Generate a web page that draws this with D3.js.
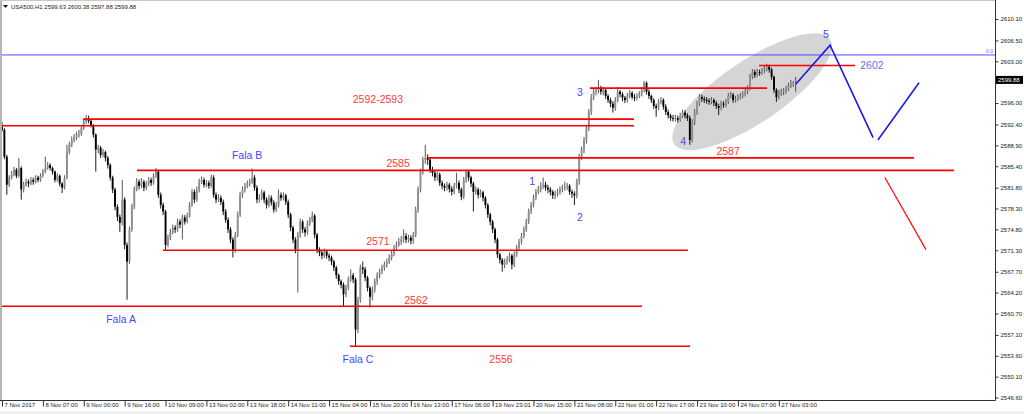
<!DOCTYPE html>
<html><head><meta charset="utf-8">
<script src="https://cdn.jsdelivr.net/npm/d3@7"></script>
<style>body{margin:0;background:#fff}svg{display:block}text{font-family:"Liberation Sans",Arial,sans-serif}</style>
</head><body>
<svg id="c" width="1024" height="414"></svg>
<script>
// ---- data (hourly bars, USA500 H1) ----
const firstOpen = 2592.0;
const closes = [
2591.5,2587.0,2582.3,2583.5,2584.0,2584.8,2583.8,2585.1,2581.5,2582.3,
2582.8,2582.5,2583.1,2582.8,2583.5,2583.1,2583.8,2584.5,2585.1,2585.6,
2585.1,2584.5,2583.1,2583.8,2582.5,2581.8,2583.5,2587.8,2589.0,2589.8,
2590.2,2590.7,2590.8,2591.8,2592.8,2593.4,2593.0,2592.3,2590.7,2588.2,
2588.5,2587.3,2587.8,2586.8,2585.6,2583.5,2581.5,2578.6,2576.9,2575.9,
2579.8,2572.2,2569.4,2574.8,2578.6,2581.5,2582.8,2582.1,2582.8,2581.8,
2582.5,2583.1,2582.6,2583.8,2584.5,2580.6,2578.9,2577.8,2572.2,2573.4,
2574.4,2575.1,2574.8,2576.1,2575.6,2576.8,2576.1,2577.1,2578.9,2581.1,
2579.8,2581.5,2582.8,2583.1,2582.3,2582.6,2582.1,2583.5,2580.6,2579.8,
2580.1,2579.4,2577.8,2576.4,2574.8,2573.1,2571.4,2573.9,2577.3,2580.6,
2581.5,2582.1,2582.5,2582.8,2583.5,2581.8,2579.8,2580.1,2581.0,2579.8,
2578.9,2580.1,2579.3,2578.1,2578.9,2580.6,2580.1,2580.5,2579.4,2577.3,
2575.1,2573.1,2571.4,2573.9,2576.1,2574.8,2574.3,2575.8,2576.4,2577.1,
2573.9,2571.4,2570.9,2570.4,2571.1,2570.4,2570.1,2569.4,2568.4,2567.1,
2566.1,2565.5,2563.9,2565.0,2566.4,2567.1,2566.4,2558.0,2563.0,2568.4,
2568.1,2566.7,2565.0,2563.5,2564.7,2566.1,2567.1,2567.7,2568.4,2568.9,
2569.4,2570.1,2570.7,2571.7,2572.2,2572.7,2573.1,2573.7,2573.1,2573.4,
2572.9,2573.9,2578.1,2581.5,2584.5,2586.5,2586.8,2586.5,2584.8,2584.3,
2583.5,2584.0,2582.6,2582.1,2581.8,2582.3,2581.6,2581.1,2582.1,2582.6,
2581.5,2580.3,2583.1,2584.5,2583.5,2582.5,2581.1,2581.5,2580.6,2581.0,
2580.1,2578.9,2577.3,2576.1,2574.8,2573.1,2570.6,2569.7,2568.9,2569.4,
2569.7,2570.4,2568.9,2570.6,2571.7,2572.7,2573.7,2574.8,2576.1,2577.8,
2578.9,2580.1,2581.1,2581.5,2582.1,2582.3,2581.8,2581.5,2581.1,2580.5,
2580.8,2581.1,2581.5,2581.8,2582.0,2582.1,2581.1,2580.8,2580.5,2582.8,
2587.0,2588.2,2589.8,2591.8,2594.5,2597.0,2597.9,2598.2,2598.5,2597.9,
2598.2,2597.2,2596.5,2595.9,2595.2,2596.5,2597.9,2597.5,2596.9,2596.5,
2597.2,2597.7,2597.0,2596.9,2597.2,2597.5,2598.2,2599.4,2597.9,2597.2,
2596.5,2595.5,2595.2,2596.2,2596.5,2595.4,2594.5,2593.9,2593.5,2593.4,
2593.5,2593.2,2593.9,2594.4,2593.9,2593.5,2589.8,2592.8,2594.5,2595.9,
2597.0,2596.7,2596.5,2596.4,2596.2,2596.5,2596.0,2595.5,2595.2,2595.9,
2595.7,2596.2,2597.2,2597.4,2596.5,2596.7,2597.0,2597.2,2597.5,2597.9,
2598.5,2600.4,2601.2,2600.7,2601.2,2601.1,2601.4,2601.7,2602.1,2601.6,
2600.4,2598.2,2597.0,2597.7,2597.9,2598.0,2598.4,2598.9,2599.4,2599.63,
2599.88];
const highs = [
2592.8,2591.8,2587.3,2583.9,2584.6,2585.3,2585.1,2586.8,2585.4,2582.8,
2583.3,2583.2,2583.6,2583.5,2583.9,2583.8,2584.2,2584.9,2587.0,2586.1,
2585.9,2585.3,2584.7,2584.2,2584.0,2582.7,2583.9,2589.0,2589.5,2590.4,
2590.8,2591.2,2591.5,2592.2,2593.3,2594.0,2593.9,2593.3,2592.5,2590.9,
2589.0,2588.8,2588.3,2588.0,2587.1,2585.9,2583.8,2581.8,2579.0,2577.3,
2583.1,2580.2,2572.6,2575.3,2579.1,2582.0,2583.4,2583.2,2583.4,2583.1,
2582.9,2583.6,2583.5,2584.2,2585.1,2584.8,2581.0,2579.3,2578.1,2573.9,
2574.9,2575.6,2575.5,2576.6,2576.5,2577.3,2577.2,2577.6,2579.4,2581.6,
2581.5,2582.0,2583.3,2583.7,2583.5,2583.1,2583.0,2584.0,2583.9,2581.0,
2580.7,2580.5,2579.8,2578.2,2576.8,2575.2,2573.5,2574.4,2577.8,2581.1,
2582.0,2582.6,2583.0,2583.3,2585.0,2583.9,2582.2,2580.7,2581.5,2581.3,
2580.2,2580.6,2580.5,2579.7,2579.4,2581.5,2581.0,2581.0,2580.8,2579.8,
2577.6,2575.4,2573.5,2574.4,2576.6,2576.4,2575.2,2576.3,2576.9,2577.8,
2577.4,2574.2,2571.8,2571.2,2571.6,2571.4,2570.8,2570.4,2569.7,2568.7,
2567.4,2566.4,2565.9,2565.5,2566.9,2568.1,2567.5,2566.7,2563.5,2568.9,
2569.4,2568.5,2567.0,2565.3,2565.2,2566.6,2567.6,2568.2,2568.9,2569.4,
2569.9,2570.6,2571.2,2572.2,2572.8,2573.4,2573.7,2574.8,2574.2,2573.9,
2573.8,2574.4,2578.6,2582.0,2585.0,2587.0,2589.0,2587.4,2586.9,2585.3,
2584.6,2584.5,2584.3,2583.0,2582.5,2582.8,2582.6,2582.0,2582.6,2584.3,
2583.0,2581.8,2583.6,2584.8,2584.8,2583.8,2582.8,2582.0,2581.8,2581.5,
2581.3,2580.4,2579.2,2577.6,2576.4,2575.1,2573.4,2570.9,2570.0,2569.9,
2570.3,2570.9,2570.7,2571.1,2572.2,2573.2,2574.2,2575.3,2576.6,2578.3,
2579.4,2580.6,2581.6,2582.1,2582.7,2583.5,2582.8,2582.3,2581.9,2581.4,
2581.3,2581.6,2582.0,2582.3,2582.8,2582.6,2582.4,2581.5,2581.2,2583.3,
2587.5,2588.7,2590.3,2592.3,2595.0,2597.5,2598.4,2598.7,2599.9,2598.9,
2598.7,2598.5,2597.5,2596.9,2596.3,2597.0,2598.7,2598.2,2597.8,2597.2,
2597.7,2598.2,2598.0,2597.5,2597.7,2598.0,2598.7,2599.7,2599.6,2598.3,
2597.4,2596.8,2595.9,2596.7,2597.0,2596.8,2595.8,2594.9,2594.2,2594.0,
2594.0,2593.9,2594.4,2594.9,2594.8,2594.3,2593.9,2593.3,2595.0,2596.4,
2597.5,2597.4,2597.1,2597.0,2596.8,2597.0,2596.8,2596.4,2595.9,2596.4,
2596.3,2596.7,2597.7,2597.9,2597.7,2597.2,2597.5,2597.7,2598.0,2598.4,
2599.0,2600.9,2601.7,2601.6,2601.7,2601.6,2601.9,2602.2,2602.6,2602.4,
2601.9,2600.6,2598.5,2598.2,2598.4,2598.5,2598.9,2599.4,2599.9,2599.7,
2600.38];
const lows = [
2591.2,2586.6,2580.6,2581.9,2583.2,2583.7,2583.4,2583.5,2579.8,2581.0,
2582.0,2581.9,2582.2,2582.3,2582.5,2582.7,2582.8,2583.5,2584.2,2584.8,
2584.7,2584.0,2582.7,2582.8,2582.0,2580.9,2581.5,2583.2,2587.4,2588.6,
2589.4,2589.8,2590.2,2590.5,2591.5,2592.5,2592.6,2591.9,2590.2,2584.5,
2587.6,2586.8,2586.9,2586.2,2585.0,2583.0,2580.9,2578.0,2576.2,2574.4,
2575.5,2571.5,2563.0,2569.0,2574.4,2578.2,2581.2,2581.5,2581.8,2581.2,
2581.4,2582.1,2582.1,2582.3,2583.4,2580.1,2578.3,2577.2,2571.4,2571.8,
2573.0,2574.0,2574.2,2574.4,2575.0,2573.1,2575.6,2575.8,2576.8,2578.6,
2579.2,2579.4,2581.0,2582.4,2581.8,2581.9,2581.6,2581.8,2580.1,2579.2,
2579.4,2578.9,2577.2,2575.9,2574.2,2572.5,2570.1,2570.9,2573.5,2576.9,
2580.1,2581.0,2581.7,2582.0,2582.4,2581.3,2579.2,2579.3,2579.7,2579.2,
2578.3,2578.5,2578.8,2577.6,2577.7,2578.5,2579.6,2579.7,2578.9,2576.7,
2574.5,2572.5,2570.8,2564.2,2573.4,2574.2,2573.6,2573.9,2575.4,2576.0,
2573.3,2570.8,2570.3,2569.8,2570.0,2569.9,2569.5,2568.8,2567.8,2566.5,
2565.5,2564.9,2561.9,2563.4,2564.6,2566.0,2565.8,2555.2,2557.4,2562.5,
2567.3,2566.1,2564.4,2561.7,2562.9,2564.2,2565.5,2566.6,2567.3,2567.9,
2568.4,2569.0,2569.6,2570.3,2571.2,2571.9,2572.2,2572.6,2572.5,2572.6,
2572.3,2572.4,2573.5,2577.6,2581.0,2584.0,2585.8,2585.6,2584.3,2583.7,
2582.9,2583.0,2582.1,2581.5,2581.2,2581.3,2581.0,2580.5,2580.7,2581.7,
2580.9,2579.7,2579.9,2582.6,2582.9,2581.9,2577.8,2580.6,2580.0,2580.2,
2579.5,2578.3,2576.7,2575.5,2574.2,2572.5,2570.0,2569.1,2567.7,2568.3,
2568.9,2569.3,2568.1,2568.5,2570.2,2571.3,2572.3,2573.3,2574.4,2575.7,
2577.4,2578.5,2579.7,2580.7,2581.0,2581.6,2581.3,2580.9,2580.5,2579.9,
2579.9,2580.3,2580.6,2581.0,2581.3,2581.4,2580.6,2580.1,2578.9,2580.0,
2582.3,2586.4,2587.6,2589.2,2591.3,2594.0,2596.5,2597.3,2597.6,2597.4,
2597.3,2596.7,2596.0,2595.3,2594.4,2594.7,2596.1,2597.0,2596.3,2596.0,
2596.1,2596.8,2596.6,2596.3,2596.4,2596.8,2597.1,2597.8,2597.4,2596.7,
2596.0,2595.0,2593.7,2594.8,2595.8,2594.9,2594.0,2593.4,2593.0,2592.9,
2592.9,2592.7,2592.9,2593.5,2593.4,2593.0,2589.0,2589.4,2592.3,2594.0,
2595.5,2596.2,2596.0,2595.9,2595.7,2595.8,2595.5,2595.0,2594.0,2594.8,
2595.2,2595.3,2595.8,2596.8,2596.0,2596.1,2596.3,2596.6,2596.8,2597.1,
2597.5,2598.1,2600.0,2600.2,2600.4,2600.6,2600.7,2601.0,2601.3,2601.1,
2599.9,2597.7,2596.2,2596.6,2597.2,2597.3,2597.5,2598.0,2598.5,2598.7,
2597.88];

const yTickValues = [2610.10,2606.50,2603.00,2599.50,2596.00,2592.40,2588.90,2585.40,2581.80,2578.30,2574.80,2571.30,2567.70,2564.20,2560.70,2557.10,2553.60,2550.10,2546.60];
const xTickIndex = [0,17,34,51,68,85,102,119,136,153,170,187,204,221,238,255,272,289,306,323];
const xTickLabels = ["7 Nov 2017","8 Nov 07:00","9 Nov 00:00","9 Nov 16:00","10 Nov 09:00","13 Nov 02:00","13 Nov 18:00","14 Nov 11:00","15 Nov 04:00","15 Nov 20:00","16 Nov 13:00","17 Nov 06:00","19 Nov 23:01","20 Nov 15:00","21 Nov 08:00","22 Nov 01:00","22 Nov 17:00","23 Nov 10:00","24 Nov 07:00","27 Nov 03:00"];

// support / resistance levels (price, from bar, to bar)
const levelPrice = [2593.3,2592.2,2584.7,2586.8,2571.3,2561.9,2555.2,2598.5,2602.3];
const levelFrom  = [33.7,0,56.1,177.1,66.9,-0.8,144.7,244.5,314.8];
const levelTo    = [262.8,262.8,395.8,379.2,285.2,266.1,286.1,318.1,354.7];
// projected wave paths [bar, price]
const waveUp   = [[330.1,2599.2],[344.3,2605.7],[362.2,2590.2]];
const waveUp2  = [[364.2,2589.8],[381.3,2599.4]];
const redDown  = [[367.1,2583.5],[384.2,2571.4]];
const fiboPrice = 2604.07;
const ellipseCenter = [311.9,2597.9];
// annotations
const annText  = ["2592-2593","2585","2571","2562","2556","2587","2602","Fala A","Fala B","Fala C","1","2","3","4","5"];
const annIdx   = [156.3,164.7,156.3,172.1,207.5,301.9,361.7,49.5,101.9,148.0,220.4,240.3,240.3,283.2,342.6];
const annPrice = [2596.7,2586.0,2572.9,2563.0,2553.1,2588.0,2602.4,2559.8,2587.3,2553.0,2583.0,2576.9,2597.9,2589.7,2607.6];
const annKind  = ["r","r","r","r","r","r","b2","b","b","b","b","b","b","b","b"];
const header = "USA500.H1  2599.63 2600.38 2597.88 2599.88";
const lastPrice = "2599.88";

// ---- drawing ----
const svg = d3.select("#c");
const W = 1024, H = 414, right = 995.5, bottom = 400.5;
const x = d3.scaleLinear().domain([0, 1]).range([2, 2 + 2.405]);
const y = d3.scaleLinear().domain([2546.6, 2610.1]).range([397.5, 19]);

svg.append("rect").attr("width", W).attr("height", H).attr("fill", "#fff");
svg.append("rect").attr("x",0).attr("y",411).attr("width",W).attr("height",3).attr("fill","#f0f0f0");
const plot = svg.append("g");
plot.append("defs").append("clipPath").attr("id","pc").append("rect").attr("x",0).attr("y",0).attr("width",right).attr("height",bottom);
const g = plot.append("g").attr("clip-path","url(#pc)");

// ellipse
const [ecx, ecy] = [x(ellipseCenter[0]), y(ellipseCenter[1])];
g.append("ellipse").attr("cx",ecx).attr("cy",ecy).attr("rx",94).attr("ry",31)
  .attr("transform",`rotate(-34 ${ecx} ${ecy})`).attr("fill","#d5d5d5");

// fibo line
g.append("line").attr("x1",0).attr("x2",right).attr("y1",y(fiboPrice)).attr("y2",y(fiboPrice))
  .attr("stroke","#3c3cff").attr("stroke-width",0.9);
svg.append("text").attr("x",993).attr("y",y(fiboPrice)-2).attr("text-anchor","end")
  .attr("font-size",5).attr("fill","#6a6aff").text("0.0");

// candles
const bars = closes.map((c,i)=>{
  const o = i===0 ? firstOpen : closes[i-1];
  return {i, o, c, h: Math.max(highs[i], o, c), l: Math.min(lows[i], o, c)};
});
const cg = g.append("g");
cg.selectAll("line.w").data(bars).join("line").attr("class","w")
  .attr("x1",d=>x(d.i)).attr("x2",d=>x(d.i)).attr("y1",d=>y(d.h)).attr("y2",d=>y(d.l))
  .attr("stroke",d=>d.c>=d.o?"#444":"#000").attr("stroke-width",0.9);
cg.selectAll("rect.b").data(bars).join("rect").attr("class","b")
  .attr("x",d=>x(d.i)-0.95).attr("width",1.9)
  .attr("y",d=>y(Math.max(d.o,d.c)))
  .attr("height",d=>Math.max(0.9, Math.abs(y(d.o)-y(d.c))))
  .attr("fill",d=>d.c>=d.o?"#8e8e8e":"#000");

// levels
g.selectAll("line.lv").data(levelPrice).join("line").attr("class","lv")
  .attr("x1",(d,i)=>x(levelFrom[i])).attr("x2",(d,i)=>x(levelTo[i]))
  .attr("y1",d=>y(d)).attr("y2",d=>y(d))
  .attr("stroke","#ff0000").attr("stroke-width",1.6);

const line = d3.line().x(d=>x(d[0])).y(d=>y(d[1]));
g.append("path").attr("d",line(waveUp)).attr("fill","none").attr("stroke","#1a1aee").attr("stroke-width",1.6);
g.append("path").attr("d",line(waveUp2)).attr("fill","none").attr("stroke","#1a1aee").attr("stroke-width",1.6);
g.append("path").attr("d",line(redDown)).attr("fill","none").attr("stroke","#ff1010").attr("stroke-width",1.3);

// annotations
const colors = {r:"#ff3a3a", b:"#4646ff", b2:"#6e6ee8"};
g.selectAll("text.an").data(annText).join("text").attr("class","an")
  .attr("x",(d,i)=>x(annIdx[i])).attr("y",(d,i)=>y(annPrice[i]))
  .attr("text-anchor","middle").attr("dominant-baseline","central")
  .attr("font-size",10.5).attr("fill",(d,i)=>colors[annKind[i]]).text(d=>d);

// frame
svg.append("rect").attr("x",0).attr("y",0).attr("width",2).attr("height",bottom).attr("fill","#b4b4b4");
svg.append("line").attr("x1",0).attr("x2",right).attr("y1",0.5).attr("y2",0.5).attr("stroke","#c8c8c8");
svg.append("line").attr("x1",right).attr("x2",right).attr("y1",0).attr("y2",bottom).attr("stroke","#333");
svg.append("line").attr("x1",0).attr("x2",right).attr("y1",bottom).attr("y2",bottom).attr("stroke","#333");

// right axis
const ya = svg.append("g").attr("transform",`translate(${right},0)`)
  .call(d3.axisRight(y).tickValues(yTickValues).tickFormat(d3.format(".2f")).tickSize(3).tickPadding(2));
ya.select(".domain").remove();
ya.selectAll("line").attr("stroke","#333");
ya.selectAll("text").attr("font-size",6).attr("fill","#222").attr("font-family","Liberation Sans, Arial");
// the tick label hidden behind the current-price box in the original
ya.selectAll(".tick").filter(d=>Math.abs(y(d)-y(+lastPrice))<8).select("text").remove();

// bottom axis
const xa = svg.append("g").attr("transform",`translate(0,${bottom})`)
  .call(d3.axisBottom(x).tickValues(xTickIndex).tickFormat((d,i)=>xTickLabels[i]).tickSize(6));
xa.select(".domain").remove();
xa.selectAll("line").attr("stroke","#333");
xa.selectAll("text").attr("text-anchor","start").attr("x",2).attr("y",2.5).attr("dy","0.71em")
  .attr("font-size",6).attr("fill","#222").attr("font-family","Liberation Sans, Arial");

// current price label
const py = y(+lastPrice);
svg.append("rect").attr("x",996).attr("y",py-4).attr("width",27).attr("height",8).attr("fill","#000");
svg.append("text").attr("x",998).attr("y",py).attr("dominant-baseline","central")
  .attr("font-size",6).attr("fill","#fff").text(lastPrice);

// header
svg.append("path").attr("d","M3,5 L8,5 L5.5,8 Z").attr("fill","#111");
svg.append("text").attr("x",11).attr("y",9).attr("font-size",6).attr("fill","#222").text(header);
</script>
</body></html>
